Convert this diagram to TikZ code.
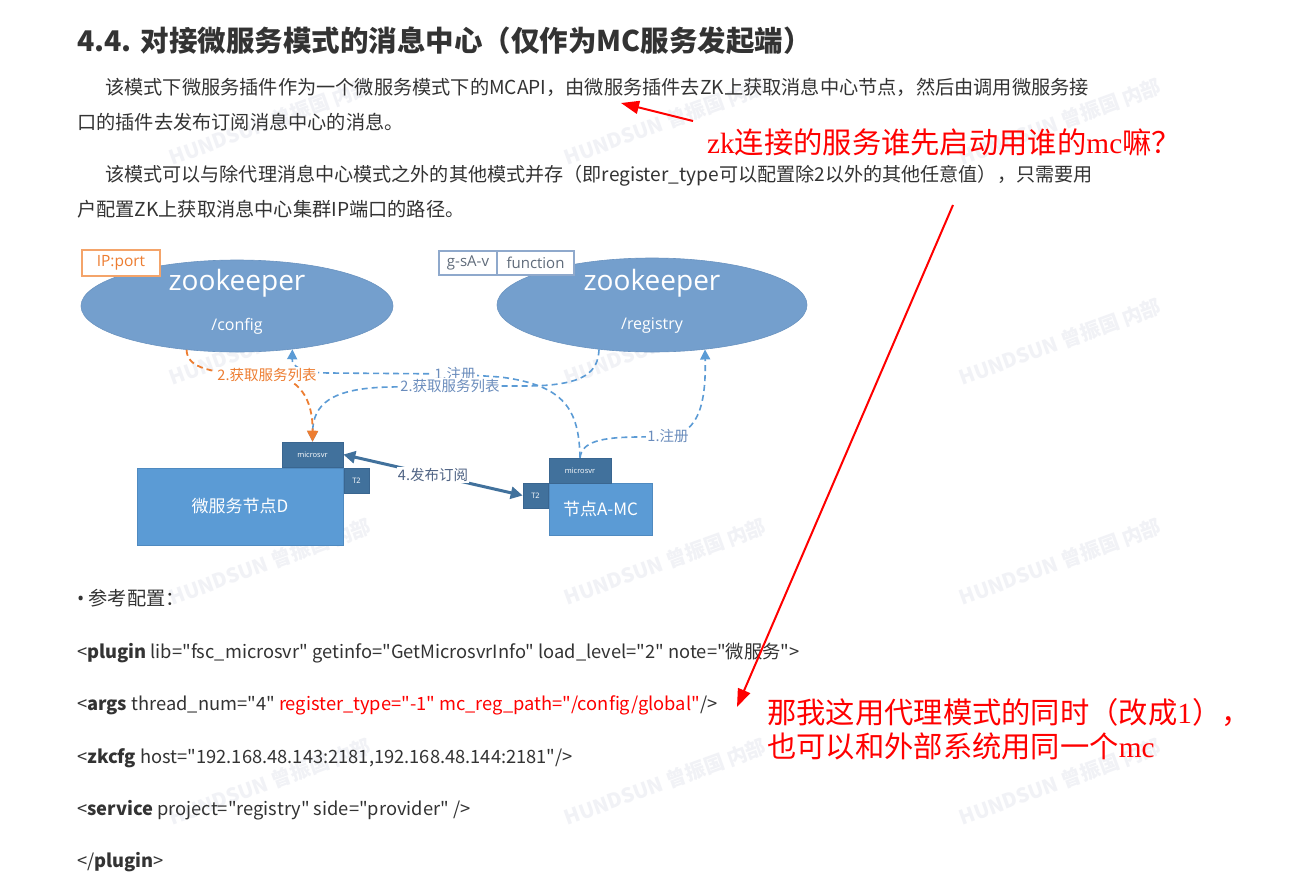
\documentclass[tikz,border=0pt]{standalone}
\usepackage{fontspec}
\setmainfont{Noto Sans CJK SC}
\newfontfamily\codefont{Noto Sans CJK SC}[Ligatures=TeXOff]
\newfontfamily\diag{Open Sans}
\newfontfamily\rl{Liberation Serif}
\usetikzlibrary{shapes.geometric,arrows.meta}
\definecolor{txt}{HTML}{333333}
\definecolor{zkfill}{HTML}{749FCD}
\definecolor{zkedge}{HTML}{6A93C0}
\definecolor{boxfill}{HTML}{5B9BD5}
\definecolor{boxedge}{HTML}{4F8AC0}
\definecolor{darkbox}{HTML}{41719C}
\definecolor{darkedge}{HTML}{3A6690}
\definecolor{dashc}{HTML}{5B9BD5}
\definecolor{orng}{HTML}{ED7D31}
\definecolor{orngedge}{HTML}{F4A46A}
\definecolor{tagedge}{HTML}{8FA9CC}
\definecolor{taggray}{HTML}{5F6B7A}
\definecolor{lblc}{HTML}{6A8CBC}
\definecolor{lbl4}{HTML}{4F6384}
\definecolor{wmark}{HTML}{F1F2F6}
\tikzset{
  body/.style={anchor=base west, inner sep=0pt, text=txt, font=\fontsize{19.2}{23}\selectfont},
  titletxt/.style={anchor=base west, inner sep=0pt, text=txt, font=\fontsize{28.5}{32}\selectfont\bfseries},
  codeln/.style={anchor=base west, inner sep=0pt, text=txt, font=\codefont\fontsize{18.3}{22}\selectfont},
  redtxt/.style={anchor=base west, inner sep=0pt, text=red, font=\fontsize{29.3}{34}\selectfont},
  wm/.style={rotate=20, inner sep=0pt, text=wmark, font=\fontsize{20}{22}\selectfont\bfseries},
  zk/.style={ellipse, fill=zkfill, draw=zkedge, line width=0.6pt, minimum width=312pt, minimum height=92pt, inner sep=0pt},
  zktitle/.style={inner sep=0pt, text=white, font=\diag\fontsize{28}{30}\selectfont},
  zkpath/.style={inner sep=0pt, text=white, font=\diag\fontsize{16}{18}\selectfont},
  bigbox/.style={rectangle, fill=boxfill, draw=boxedge, line width=0.6pt, inner sep=0pt, text=white, font=\fontsize{17}{20}\selectfont},
  smallbox/.style={rectangle, fill=darkbox, draw=darkedge, line width=0.6pt, inner sep=0pt, text=white, font=\diag\fontsize{7.5}{8}\selectfont},
  tagbox/.style={rectangle, fill=white, draw=tagedge, line width=1.2pt, inner sep=0pt, text=taggray, font=\diag\fontsize{15}{17}\selectfont},
  iptag/.style={rectangle, fill=white, draw=orngedge, line width=1.4pt, inner sep=0pt, text=orng, font=\diag\fontsize{15.5}{17}\selectfont},
  bluedash/.style={draw=dashc, line width=1.6pt, dash pattern=on 6pt off 4pt, -{Triangle[length=10pt,width=10pt]}},
  orngdash/.style={draw=orng, line width=1.8pt, dash pattern=on 6pt off 4pt, -{Triangle[length=11pt,width=11pt]}},
  lblblue/.style={fill=white, inner sep=1pt, text=lblc, font=\fontsize{14.5}{16}\selectfont},
  lblorng/.style={fill=white, inner sep=1pt, text=orng, font=\fontsize{14.5}{16}\selectfont},
  lblpub/.style={fill=white, inner sep=1pt, text=lbl4, font=\fontsize{14.5}{16}\selectfont},
  pubarrow/.style={draw=darkbox, line width=3pt, {Triangle[length=12pt,width=12pt]}-{Triangle[length=12pt,width=12pt]}},
  redarrow/.style={draw=red, line width=2pt, -{Triangle[length=18pt,width=13pt]}}
}
\begin{document}
\begin{tikzpicture}[x=1pt,y=-1pt]
\fill[white] (0,0) rectangle (1300,889);
\useasboundingbox (0,0) rectangle (1300,889);

% watermarks
\foreach \wx/\wy [count=\i] in {270/122,665/122,1060/122,270/342,665/342,1060/342,270/562,665/562,1060/562,270/782,665/782,1060/782}
  \node[wm] (wm\i) at (\wx,\wy) {HUNDSUN 曾振国 内部};

% text
\node[titletxt] (title) at (77,51) {4.4. 对接微服务模式的消息中心（仅作为MC服务发起端）};
\node[body] (p1a) at (105,94) {该模式下微服务插件作为一个微服务模式下的MCAPI，由微服务插件去ZK上获取消息中心节点，然后由调用微服务接};
\node[body] (p1b) at (77,129) {口的插件去发布订阅消息中心的消息。};
\node[body, font=\fontsize{19.1}{23}\selectfont] (p2a) at (105,181) {该模式可以与除代理消息中心模式之外的其他模式并存（即register\_type可以配置除2以外的其他任意值），只需要用};
\node[body] (p2b) at (77,216) {户配置ZK上获取消息中心集群IP端口的路径。};

\node[body] (bul) at (77,605) {{\diag •} 参考配置：};
\node[codeln] (c1) at (77,658) {<\textbf{plugin} lib="fsc\_microsvr" getinfo="GetMicrosvrInfo" load\_level="2" note="微服务">};
\node[codeln] (c2) at (77,710) {<\textbf{args} thread\_num="4" \textcolor{red}{register\_type="-1" mc\_reg\_path="/config/global"}/>};
\node[codeln] (c3) at (77,763) {<\textbf{zkcfg} host="192.168.48.143:2181,192.168.48.144:2181"/>};
\node[codeln] (c4) at (77,815) {<\textbf{service} project="registry" side="provider" />};
\node[codeln] (c5) at (77,867) {</\textbf{plugin}>};

% red annotations
\node[redtxt] (q1) at (707,153) {{\rl zk}连接的服务谁先启动用谁的{\rl mc}嘛？};
\node[redtxt] (q2) at (767,723) {那我这用代理模式的同时（改成{\rl 1}），};
\node[redtxt] (q3) at (767,757) {也可以和外部系统用同一个{\rl mc}};
\coordinate (r1s) at (693,121);
\coordinate (r1e) at (621,103);
\coordinate (r2s) at (953,205);
\coordinate (r2e) at (737,707);
\draw[redarrow] (r1s) -- (r1e);
\draw[redarrow] (r2s) -- (r2e);

% diagram
\node[zk] (zkL) at (237,306) {};
\node[zk, minimum width=310pt, minimum height=94pt] (zkR) at (652,305) {};
\node[zktitle] (zkLt) at (237,283) {zookeeper};
\node[zkpath] (zkLp) at (237,326) {/config};
\node[zktitle] (zkRt) at (652,283) {zookeeper};
\node[zkpath] (zkRp) at (652,326) {/registry};
\node[iptag, minimum width=78pt, minimum height=26pt] (ip) at (121,263) {IP:port};
\node[tagbox, minimum width=58pt, minimum height=24pt] (gsa) at (468,263) {g-sA-v};
\node[tagbox, minimum width=77pt, minimum height=24pt] (fn) at (535.5,263) {function};

\node[bigbox, minimum width=206pt, minimum height=77pt] (nodeD) at (240,506.5) {微服务节点D};
\node[smallbox, minimum width=61pt, minimum height=25pt] (mcD) at (312.5,454.5) {microsvr};
\node[smallbox, minimum width=25pt, minimum height=25pt] (t2D) at (356.5,480.5) {T2};
\node[bigbox, minimum width=103pt, minimum height=52pt] (nodeA) at (600.5,509) {节点A-MC};
\node[smallbox, minimum width=62pt, minimum height=25pt] (mcA) at (580,470.5) {microsvr};
\node[smallbox, minimum width=25pt, minimum height=25pt] (t2A) at (535.5,495.5) {T2};

% blue connectors
\draw[bluedash] (mcA.north) .. controls (579,410) and (565,385) .. (500,377) -- (455,374) node[lblblue] (l1a) {1.注册} -- (330,373) .. controls (300,373) and (292,366) .. (zkL.-38);
\draw[bluedash] (zkR.220) .. controls (598,372) and (585,385) .. (530,386) -- (450,386) node[lblblue] (l2b) {2.获取服务列表} -- (390,387) .. controls (330,388) and (313,405) .. (mcD.north);
\draw[bluedash] (mcA.north) .. controls (582,442) and (600,437) .. (640,437) -- (668,436) node[lblblue] (l1b) {1.注册} .. controls (700,434) and (706,400) .. (zkR.-40);
% orange connector
\draw[orngdash] (zkL.221) .. controls (187,368) and (210,374) .. (267,375) node[lblorng] (l2a) {2.获取服务列表} .. controls (300,376) and (313,400) .. (mcD.north);
% publish/subscribe
\draw[pubarrow] (mcD.east) -- node[lblpub] (l4) {4.发布订阅} (t2A.west);
\end{tikzpicture}
\end{document}
